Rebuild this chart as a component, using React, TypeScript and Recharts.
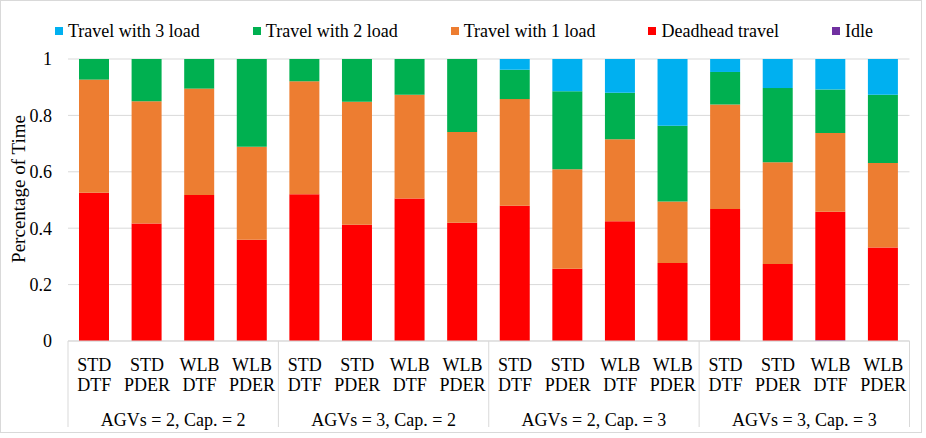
import React from 'react';
import { BarChart, Bar, XAxis, YAxis, CartesianGrid, Legend } from 'recharts';

const methods = ['STD DTF', 'STD PDER', 'WLB DTF', 'WLB PDER'];
const groups = ['AGVs = 2, Cap. = 2', 'AGVs = 3, Cap. = 2', 'AGVs = 2, Cap. = 3', 'AGVs = 3, Cap. = 3'];

const idle = [0, 0, 0, 0, 0, 0, 0, 0, 0, 0, 0, 0, 0, 0, 0.003, 0];
const deadhead = [0.526, 0.417, 0.518, 0.359, 0.52, 0.412, 0.505, 0.419, 0.48, 0.256, 0.425, 0.277, 0.468, 0.273, 0.455, 0.332];
const load1 = [0.401, 0.433, 0.377, 0.33, 0.401, 0.436, 0.368, 0.322, 0.378, 0.353, 0.29, 0.218, 0.371, 0.361, 0.28, 0.299];
const load2 = [0.073, 0.15, 0.105, 0.311, 0.079, 0.152, 0.127, 0.259, 0.104, 0.277, 0.165, 0.268, 0.115, 0.263, 0.154, 0.242];
const load3 = [0, 0, 0, 0, 0, 0, 0, 0, 0.038, 0.114, 0.12, 0.237, 0.046, 0.103, 0.108, 0.127];

const yTicks = [0, 0.2, 0.4, 0.6, 0.8, 1];

const series = [
  { key: 'load3', name: 'Travel with 3 load', color: '#00b0f0' },
  { key: 'load2', name: 'Travel with 2 load', color: '#00b050' },
  { key: 'load1', name: 'Travel with 1 load', color: '#ed7d31' },
  { key: 'deadhead', name: 'Deadhead travel', color: '#ff0000' },
  { key: 'idle', name: 'Idle', color: '#7030a0' },
];

const data = groups.flatMap((g, gi) =>
  methods.map((m, mi) => {
    const i = gi * 4 + mi;
    return {
      id: String(i),
      method: m,
      group: g,
      idle: idle[i],
      deadhead: deadhead[i],
      load1: load1[i],
      load2: load2[i],
      load3: load3[i],
    };
  })
);

const W = 926;
const H = 438;
const LEFT = 68;
const RIGHT = 16.5;
const BAND = (W - LEFT - RIGHT) / data.length;
const FONT = '"Liberation Serif", Tinos, "DejaVu Serif", serif';
const LINE = '#d9d9d9';

const CategoryTick = (props: any) => {
  const { x, y, payload, index } = props;
  const row = data[index] || data[Number(payload.value)];
  const [top, bottom] = row.method.split(' ');
  const half = BAND / 2;
  return (
    <g style={{ fontFamily: FONT }} fontSize={18} fill="#000">
      <text x={x} y={y + 29.5} textAnchor="middle">{top}</text>
      <text x={x} y={y + 50} textAnchor="middle">{bottom}</text>
      {index % 4 === 0 && <line x1={x - half} x2={x - half} y1={y} y2={y + 86} stroke={LINE} />}
      {index === data.length - 1 && <line x1={x + half} x2={x + half} y1={y} y2={y + 86} stroke={LINE} />}
      {index % 4 === 1 && (
        <text x={x + half} y={y + 84.5} textAnchor="middle">{row.group}</text>
      )}
    </g>
  );
};

// rotated axis title, sits a little above the plot's middle
const YTitle = (props: any) => {
  const { viewBox } = props;
  const cx = 18;
  const cy = viewBox.y + viewBox.height / 2 - 11;
  return (
    <text x={cx} y={cy} transform={`rotate(-90, ${cx}, ${cy})`} textAnchor="middle" dominantBaseline="central"
      style={{ fontFamily: FONT, fontSize: 19 }} fill="#000">
      Percentage of Time
    </text>
  );
};

const LegendContent = () => (
  <div style={{ display: 'flex', gap: 53, paddingLeft: 55, fontFamily: FONT, fontSize: 18, height: 20, alignItems: 'center', color: '#000' }}>
    {series.map((s) => (
      <div key={s.key} style={{ display: 'flex', alignItems: 'center' }}>
        <span style={{ width: 8, height: 8, background: s.color, marginRight: 5, display: 'inline-block' }} />
        <span>{s.name}</span>
      </div>
    ))}
  </div>
);

const App: React.FC = () => {
  const stack = [...series].reverse();
  return (
    <div style={{ position: 'absolute', left: 0, top: 0, width: W, height: H, background: '#fff', fontFamily: FONT }}>
      <div style={{ position: 'absolute', left: 0, top: 0, width: 922, height: 433, border: `1px solid ${LINE}`, boxSizing: 'border-box' }} />
      <div style={{ position: 'absolute', left: 0, top: 0 }}>
        <BarChart width={W} height={H} data={data} margin={{ top: 39, right: RIGHT, bottom: 0, left: 0 }} style={{ fontFamily: FONT }}>
          <CartesianGrid vertical={false} stroke={LINE} />
          <XAxis
            dataKey="id"
            axisLine={{ stroke: LINE }}
            tickLine={false}
            tickSize={0}
            tickMargin={0}
            height={97}
            interval={0}
            tick={<CategoryTick />}
          />
          <YAxis
            width={LEFT}
            domain={[0, 1]}
            ticks={yTicks}
            axisLine={false}
            tickLine={false}
            tickSize={6}
            tickMargin={10}
            tick={{ fontSize: 18, fill: '#000', style: { fontFamily: FONT } }}
            label={<YTitle />}
          />
          <Legend verticalAlign="top" height={20} wrapperStyle={{ top: 21, left: 0 }} content={<LegendContent />} />
          {stack.map((s) => (
            <Bar key={s.key} dataKey={s.key} name={s.name} stackId="a" fill={s.color} barSize={30} isAnimationActive={false} />
          ))}
        </BarChart>
      </div>
    </div>
  );
};

export default App;
